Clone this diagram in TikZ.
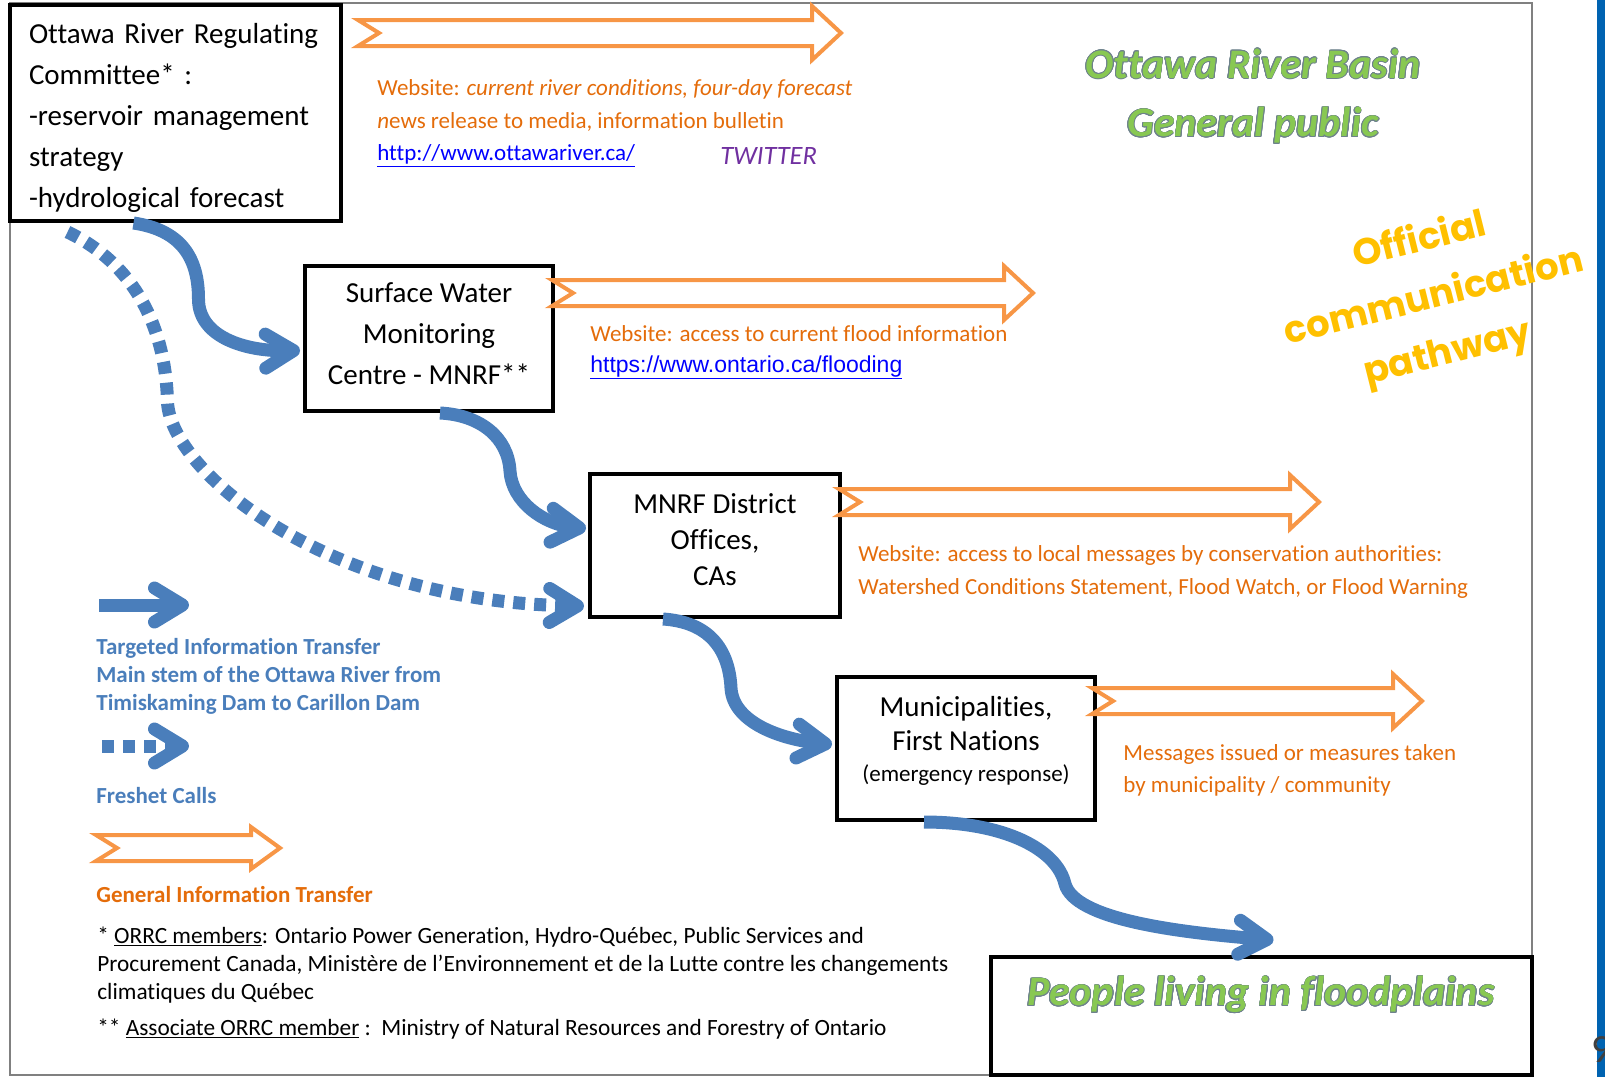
\documentclass[tikz,border=0pt]{standalone}
\usepackage{fontspec}
\setmainfont{Carlito}[Ligatures=NoCommon]
\newfontfamily\arialfont{Liberation Sans}
\newfontfamily\handfont{Poppins}
\usepackage{contour}
\usetikzlibrary{arrows.meta,calc}

\definecolor{flowblue}{RGB}{74,126,187}
\definecolor{genorange}{RGB}{247,150,70}
\definecolor{txtorange}{RGB}{228,108,10}
\definecolor{pubgreen}{RGB}{136,200,82}
\definecolor{pubedge}{RGB}{110,130,140}
\definecolor{pathyellow}{RGB}{255,192,0}
\definecolor{twitterpurple}{RGB}{112,48,160}
\definecolor{linkblue}{RGB}{0,0,255}
\definecolor{slideblue}{RGB}{0,99,177}
\contourlength{0.7pt}

\tikzset{every picture/.style={line width=0.75pt}}
\tikzset{
  orgbox/.style={draw, line width=4pt, inner sep=0pt, align=center, font=\fontsize{29}{41}\selectfont},
  flow/.style={draw=flowblue, line width=13pt, -{Straight Barb[length=28pt,width=34pt,round]}},
  freshet/.style={flow, dash pattern=on 12pt off 9pt},
  genarrow/.style={draw=genorange, line width=4pt, line join=miter},
  orangetxt/.style={text=txtorange, align=left, inner sep=0pt, anchor=west},
  keytxt/.style={inner sep=0pt, align=left, anchor=west, font=\bfseries\fontsize{23}{28}\selectfont},
}

% hollow notched arrow: tail centre, length, head half width
\newcommand{\infoarrow}[3]{%
  \draw[genarrow] #1 ++(0,-13) -- ++({#2-29},0) -- ++(0,{13-#3}) -- ++(29,#3) -- ++(-29,#3) -- ++(0,{13-#3}) -- ++({29-#2},0) -- ++(21,-13) -- cycle;}

\begin{document}
\begin{tikzpicture}[x=1pt,y=1pt,yscale=-1]
  \useasboundingbox (0,0) rectangle (1605,1077);

  %Page frame
  \draw[gray, line width=1.5pt] (10,3) rectangle (1532,1075);
  \fill[slideblue] (1597,0) rectangle (1605,1077);
  % Text Node
  \node[anchor=west, inner sep=0pt, text=black!75, font=\fontsize{40}{40}\selectfont] (pgnum) at (1591,1050) {9};

  %Shape: Rectangle
  \node[orgbox, minimum width=331pt, minimum height=216pt, text width=293pt, align=left] (orrc) at (175.5,113) {\rule{0pt}{30pt}Ottawa River Regulating\\Committee* :\\-reservoir management\\strategy\\-hydrological forecast};
  %Shape: Rectangle
  \node[orgbox, minimum width=248pt, minimum height=145pt] (swmc) at (429,338.5) {Surface Water\\Monitoring\\Centre - MNRF**\rule[-10pt]{0pt}{1pt}};
  %Shape: Rectangle
  \node[orgbox, minimum width=250pt, minimum height=143pt, font=\fontsize{29}{36}\selectfont] (mnrf) at (715,545.5) {MNRF District\\Offices,\\CAs\rule[-12pt]{0pt}{1pt}};
  %Shape: Rectangle
  \node[orgbox, minimum width=258pt, minimum height=143pt, font=\fontsize{29}{34}\selectfont] (muni) at (966,748.5) {Municipalities,\\First Nations\\[-3pt]{\fontsize{23}{31}\selectfont (emergency response)}\rule[-20pt]{0pt}{1pt}};
  %Shape: Rectangle
  \node[orgbox, minimum width=541pt, minimum height=118pt] (people) at (1261.5,1016) {};
  % Text Node
  \node[text=pubgreen, inner sep=0pt, font=\bfseries\itshape\fontsize{42}{58}\selectfont] (peopletxt) at (1261,995) {\contour{pubedge}{People living in floodplains}};

  %Right Arrow
  \infoarrow{($(orrc.north east)+(15,30)$)}{483}{27}
  %Right Arrow
  \infoarrow{($(swmc.north east)+(-3,29)$)}{481}{27}
  %Right Arrow
  \infoarrow{($(mnrf.north east)+(-3,30)$)}{480}{27}
  %Right Arrow
  \infoarrow{($(muni.north east)+(-5,26)$)}{330}{27}
  %Right Arrow
  \infoarrow{(96,848)}{184}{21}

  %Curved Arrow
  \draw[flow] ($(orrc.south)+(-42,0)$) .. controls +(47,7) and +(0,-42) .. ++(65,76) .. controls +(0,38) and +(-55,1) .. ($(swmc.west)+(-3,12)$);
  %Curved Arrow
  \draw[flow] ($(swmc.south)+(11,0)$) .. controls +(40,2) and +(-2,-34) .. ++(70,58) .. controls +(2,31) and +(-42,-4) .. ($(mnrf.west)+(-2,-17)$);
  %Curved Arrow
  \draw[flow] ($(mnrf.south)+(-52,0)$) .. controls +(45,3) and +(-2,-40) .. ++(68,69) .. controls +(2,35) and +(-50,-5) .. ($(muni.west)+(-3,-4)$);
  %Curved Arrow
  \draw[flow] ($(muni.south)+(-42,0)$) .. controls +(80,0) and +(-8,-35) .. ++(141,62) .. controls +(10,35) and +(-100,-8) .. ($(people.north)+(12,-15)$);
  %Dotted Curved Arrow
  \draw[freshet] ($(orrc.south)+(-108,9)$) .. controls +(63,30) and +(-2,-80) .. ++(100,170) .. controls +(3,70) and +(-256,-4) .. ($(mnrf.south west)+(-4,-13)$);

  %Legend arrows
  \coordinate (keyA) at (99,605);
  \coordinate (keyB) at (189,605);
  \coordinate (keyC) at (102,746);
  \coordinate (keyD) at (189,746);
  \draw[flow] (keyA) -- (keyB);
  \draw[freshet] (keyC) -- (keyD);

  % Text Node
  \node[orangetxt, font=\fontsize{23}{32.5}\selectfont] (orrcweb) at (377,123) {Website: \textit{current river conditions, four-day forecast}\\\textit{n}ews release to media, information bulletin\\{\color{linkblue}\underline{http://www.ottawariver.ca/}}};
  % Text Node
  \node[anchor=west, inner sep=0pt, text=twitterpurple, font=\itshape\fontsize{26.5}{28}\selectfont] (twitter) at (720,156) {TWITTER};
  % Text Node
  \node[orangetxt, font=\fontsize{23}{31}\selectfont] (swmcweb) at (590,352) {Website: access to current flood information\\{\arialfont\color{linkblue}\underline{https://www.ontario.ca/flooding}}};
  % Text Node
  \node[orangetxt, font=\fontsize{23}{33}\selectfont] (mnrfweb) at (858,571.5) {Website: access to local messages by conservation authorities:\\Watershed Conditions Statement, Flood Watch, or Flood Warning};
  % Text Node
  \node[orangetxt, font=\fontsize{23}{32}\selectfont] (muniweb) at (1123,770) {Messages issued or measures taken\\by municipality / community};

  % Text Node
  \node[text=pubgreen, align=center, inner sep=0pt, font=\bfseries\itshape\fontsize{42}{58.5}\selectfont] (basin) at (1253,96.5) {\contour{pubedge}{Ottawa River Basin}\\\contour{pubedge}{General public}};
  % Text Node
  \node[rotate=14, text=pathyellow, align=center, inner sep=0pt, font=\handfont\bfseries\fontsize{37}{58}\selectfont] (official) at (1434,298) {Official\\communication\\pathway};

  % Text Node
  \node[keytxt, text=flowblue] (keytarget) at (96,676) {Targeted Information Transfer\\Main stem of the Ottawa River from\\Timiskaming Dam to Carillon Dam};
  % Text Node
  \node[keytxt, text=flowblue] (keyfreshet) at (96,795) {Freshet Calls};
  % Text Node
  \node[keytxt, text=txtorange] (keygeneral) at (96,894) {General Information Transfer};

  % Text Node
  \node[anchor=west, inner sep=0pt, align=left, font=\fontsize{23.3}{28}\selectfont] (members) at (97,965) {* \underline{ORRC members}: Ontario Power Generation, Hydro-Québec, Public Services and\\Procurement Canada, Ministère de l’Environnement et de la Lutte contre les changements\\climatiques du Québec};
  % Text Node
  \node[anchor=west, inner sep=0pt, font=\fontsize{23.3}{28}\selectfont] (associate) at (97,1029) {** \underline{Associate ORRC member} :\ \ Ministry of Natural Resources and Forestry of Ontario};
\end{tikzpicture}
\end{document}
